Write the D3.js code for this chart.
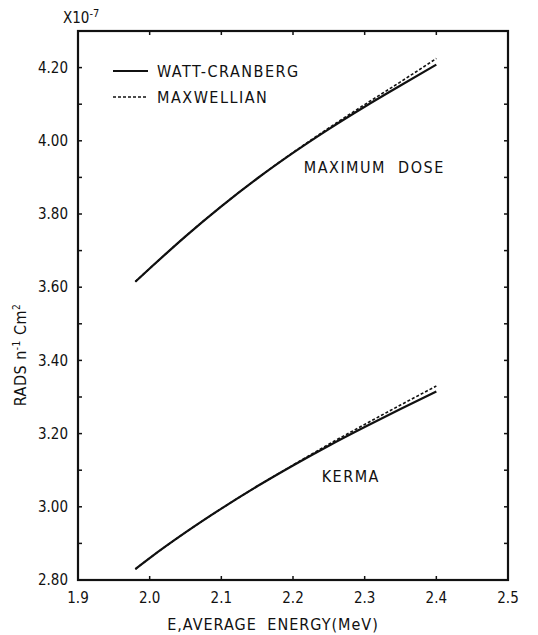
<!DOCTYPE html>
<html>
<head>
<meta charset="utf-8">
<script src="https://cdn.jsdelivr.net/npm/d3@7"></script>
<style>
  html, body { margin: 0; padding: 0; background: #fff; }
  svg { display: block; font-family: 'DejaVu Sans Condensed', 'Liberation Sans Narrow', 'DejaVu Sans', sans-serif; }
  .tick-lbl { font-size: 15px; fill: #111; }
  .lbl { font-size: 16px; fill: #111; letter-spacing: 1.5px; }
</style>
</head>
<body>
<div id="chart"></div>
<script>
// ============================================================================
//  Neutron dose vs average energy — Watt-Cranberg vs Maxwellian spectra
// ============================================================================
const xTicks = [1.9, 2.0, 2.1, 2.2, 2.3, 2.4, 2.5];
const xTickLabels = ['1.9', '2.0', '2.1', '2.2', '2.3', '2.4', '2.5'];
const yTicks = [2.8, 3.0, 3.2, 3.4, 3.6, 3.8, 4.0, 4.2];
const yTickLabels = ['2.80', '3.00', '3.20', '3.40', '3.60', '3.80', '4.00', '4.20'];

// maximum dose
const doseE      = [1.98, 2.00, 2.05, 2.10, 2.15, 2.20, 2.25, 2.30, 2.35, 2.40];
const doseWatt   = [3.615, 3.651, 3.739, 3.821, 3.897, 3.967, 4.032, 4.093, 4.151, 4.208];
const doseMaxw   = [3.615, 3.651, 3.739, 3.821, 3.897, 3.968, 4.035, 4.099, 4.161, 4.225];
// kerma
const kermaE     = [1.98, 2.00, 2.05, 2.10, 2.15, 2.20, 2.25, 2.30, 2.35, 2.40];
const kermaWatt  = [2.830, 2.860, 2.930, 2.995, 3.056, 3.113, 3.167, 3.218, 3.267, 3.315];
const kermaMaxw  = [2.830, 2.860, 2.930, 2.995, 3.056, 3.114, 3.171, 3.225, 3.278, 3.330];

const W = 538, H = 635;
const m = { top: 31, right: 30, bottom: 55, left: 78 };
const iw = W - m.left - m.right, ih = H - m.top - m.bottom;

const svg = d3.select('#chart').append('svg').attr('width', W).attr('height', H);
const g = svg.append('g').attr('transform', `translate(${m.left},${m.top})`);

const x = d3.scaleLinear([1.9, 2.5], [0, iw]);
const y = d3.scaleLinear([2.8, 4.3], [ih, 0]);
const yMinor = d3.range(2.8, 4.31, 0.1).map(v => +v.toFixed(2));

// ---- frame + inward ticks --------------------------------------------------
g.append('rect').attr('width', iw).attr('height', ih)
  .attr('fill', 'none').attr('stroke', '#111').attr('stroke-width', 2.2);

const tk = g.append('g').attr('stroke', '#111').attr('stroke-width', 1.5);
tk.selectAll('line.l').data(yMinor).join('line').attr('class', 'l')
  .attr('x1', 0).attr('x2', 4).attr('y1', d => y(d)).attr('y2', d => y(d));
tk.selectAll('line.r').data(yMinor).join('line').attr('class', 'r')
  .attr('x1', iw - 4).attr('x2', iw).attr('y1', d => y(d)).attr('y2', d => y(d));
tk.selectAll('line.b').data(xTicks.slice(1, -1)).join('line').attr('class', 'b')
  .attr('x1', d => x(d)).attr('x2', d => x(d)).attr('y1', ih).attr('y2', ih - 4);
tk.selectAll('line.t').data(xTicks.slice(1, -1)).join('line').attr('class', 't')
  .attr('x1', d => x(d)).attr('x2', d => x(d)).attr('y1', 0).attr('y2', 4);

// tick labels
g.append('g').selectAll('text').data(xTicks).join('text').attr('class', 'tick-lbl')
  .attr('x', d => x(d)).attr('y', ih + 23).attr('text-anchor', 'middle')
  .text((d, i) => xTickLabels[i]);
g.append('g').selectAll('text').data(yTicks).join('text').attr('class', 'tick-lbl')
  .attr('x', -10).attr('y', d => y(d)).attr('dy', '.35em').attr('text-anchor', 'end')
  .text((d, i) => yTickLabels[i]);

// scale factor + axis titles
const sf = svg.append('text').attr('class', 'tick-lbl').attr('x', 63).attr('y', 23);
sf.append('tspan').text('X10');
sf.append('tspan').attr('dy', -6).style('font-size', '11px').text('-7');

svg.append('text').attr('class', 'lbl').attr('x', 273).attr('y', H - 5)
  .attr('text-anchor', 'middle').style('letter-spacing', '1px').style('word-spacing', '5px')
  .text('E,AVERAGE ENERGY(MeV)');

const yt = svg.append('text').attr('class', 'lbl').attr('text-anchor', 'middle')
  .attr('transform', `translate(26,${355}) rotate(-90)`).style('letter-spacing', '0.5px');
yt.append('tspan').text('RADS n');
yt.append('tspan').attr('dy', -6).style('font-size', '10px').text('-1');
yt.append('tspan').attr('dy', 6).text(' Cm');
yt.append('tspan').attr('dy', -6).style('font-size', '10px').text('2');

// ---- curves -------------------------------------------------------------------
const line = d3.line().x(d => x(d[0])).y(d => y(d[1])).curve(d3.curveMonotoneX);
const series = [
  { e: doseE,  v: doseWatt,  dash: null },
  { e: doseE,  v: doseMaxw,  dash: '3,2' },
  { e: kermaE, v: kermaWatt, dash: null },
  { e: kermaE, v: kermaMaxw, dash: '3,2' },
];
g.append('g').selectAll('path').data(series).join('path')
  .attr('d', s => line(s.e.map((e, i) => [e, s.v[i]])))
  .attr('fill', 'none').attr('stroke', '#111')
  .attr('stroke-width', s => s.dash ? 1.6 : 2.2).attr('stroke-dasharray', s => s.dash);

// curve labels
g.append('text').attr('class', 'lbl').attr('x', x(2.215)).attr('y', y(3.912))
  .style('word-spacing', '6px').text('MAXIMUM  DOSE');
g.append('text').attr('class', 'lbl').attr('x', x(2.24)).attr('y', y(3.068)).text('KERMA');

// ---- legend -------------------------------------------------------------------
const legend = [
  { name: 'WATT-CRANBERG', dash: null },
  { name: 'MAXWELLIAN', dash: '3,2' },
];
const lg = svg.append('g').selectAll('g').data(legend).join('g')
  .attr('transform', (d, i) => `translate(113,${71 + i * 26})`);
lg.append('line').attr('x1', 0).attr('x2', 35).attr('stroke', '#111')
  .attr('stroke-width', d => d.dash ? 1.3 : 1.8).attr('stroke-dasharray', d => d.dash);
lg.append('text').attr('class', 'lbl').attr('x', 44).attr('dy', '.35em').text(d => d.name);
</script>
</body>
</html>
